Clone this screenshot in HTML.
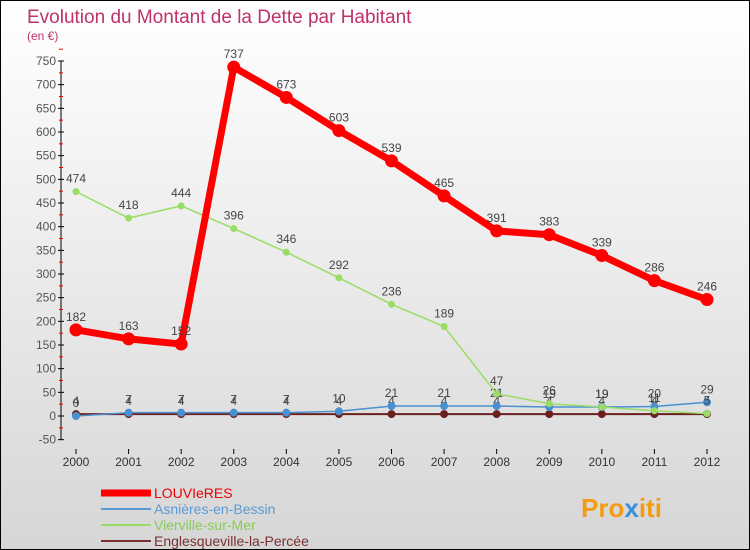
<!DOCTYPE html>
<html><head><meta charset="utf-8"><style>
body{margin:0}
#w{width:748px;height:548px;border:1px solid #000;background:linear-gradient(#fff,#d6d6d6);position:relative;font-family:"Liberation Sans",sans-serif;overflow:hidden}
</style></head><body>
<div id="w">
<svg id="s" width="748" height="548" style="position:absolute;left:0;top:0">
<text x="26" y="22" font-size="19" fill="#c0306a">Evolution du Montant de la Dette par Habitant</text>
<text x="26" y="39" font-size="12" fill="#c0306a">(en €)</text>
<g id="ax"></g><g id="series"></g>
<g>
<line x1="100" y1="492" x2="150" y2="492" stroke="#f00" stroke-width="7"/>
<text x="153" y="497" font-size="14" fill="#e00">LOUVIeRES</text>
<line x1="100" y1="508" x2="150" y2="508" stroke="#5a9bd5" stroke-width="2"/>
<text x="153" y="513" font-size="14" fill="#5a9bd5">Asnières-en-Bessin</text>
<line x1="100" y1="524" x2="150" y2="524" stroke="#99dd66" stroke-width="2"/>
<text x="153" y="529" font-size="14" fill="#88cc55">Vierville-sur-Mer</text>
<line x1="100" y1="540" x2="150" y2="540" stroke="#7a3030" stroke-width="2"/>
<text x="153" y="545" font-size="14" fill="#7a3030">Englesqueville-la-Percée</text>
</g>
<text x="580" y="516" font-size="26" font-weight="bold" fill="#f39c12">Pro<tspan fill="#3a8fd8">x</tspan>iti</text>
</svg></div>
<script>
const years=[2000,2001,2002,2003,2004,2005,2006,2007,2008,2009,2010,2011,2012];
const louviers=[182,163,152,737,673,603,539,465,391,383,339,286,246];
const asnieres=[0,7,7,7,7,10,21,21,21,19,19,20,29];
const vierville=[474,418,444,396,346,292,236,189,47,26,19,11,5];
const englesqueville=[4,4,4,4,4,4,4,4,4,4,4,4,4];
const yTicks=[-50,0,50,100,150,200,250,300,350,400,450,500,550,600,650,700,750];
const NS="http://www.w3.org/2000/svg";
const X=i=>75+i*(706-75)/12, Y=v=>415-v*355/750;
function mk(t,a,p){const e=document.createElementNS(NS,t);for(const k in a)e.setAttribute(k,a[k]);p.appendChild(e);return e;}
const ax=document.getElementById('ax');
let l=mk('line',{x1:60,y1:Y(750),x2:60,y2:Y(-50),stroke:'#000'},ax);


yTicks.forEach(v=>{
 mk('line',{x1:57,y1:Y(v),x2:63,y2:Y(v),stroke:'#000'},ax);
 mk('line',{x1:58,y1:Y(v+25),x2:62,y2:Y(v+25),stroke:'#e00'},ax);
 const t=mk('text',{x:55,y:Y(v)+4,'font-size':12,fill:'#555','text-anchor':'end'},ax);t.textContent=v;
 
 
});
years.forEach((y,i)=>{
 mk('line',{x1:X(i),y1:448,x2:X(i),y2:453,stroke:'#000'},ax);
 const t=mk('text',{x:X(i),y:465,'font-size':12,fill:'#333','text-anchor':'middle'},ax);t.textContent=y;
 
 
});
const sg=document.getElementById('series');
function draw(d,col,w,r,name,labels){
 const g=mk('g',{},sg);
 
 
 mk('polyline',{points:d.map((v,i)=>X(i)+','+Y(v)).join(' '),fill:'none',stroke:col,'stroke-width':w,'stroke-linejoin':'round'},g);
 d.forEach((v,i)=>{
  const c=mk('circle',{cx:X(i),cy:Y(v),r:r,fill:col},g);
  
  
  if(labels){const t=mk('text',{x:X(i),y:Y(v)-9,'font-size':12,fill:'#444','text-anchor':'middle'},g);t.textContent=v;}
 });
}
draw(englesqueville,'#6b1f1f',2,4,'englesqueville',true);
draw(asnieres,'#4a90d0',1.5,4,'asnieres',true);
draw(vierville,'#99dd66',1.5,3.5,'vierville',true);
draw(louviers,'#f00',7,6.5,'louviers',true);
</script>
</body></html>
